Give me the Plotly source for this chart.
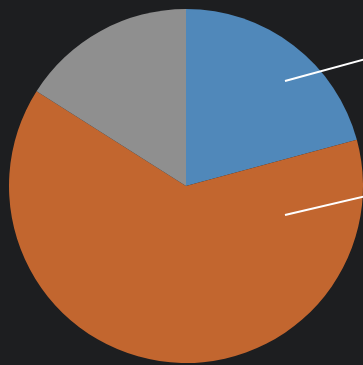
import plotly.graph_objects as go

# Data
categories = ["Blue", "Orange", "Gray"]
values = [20.8, 63.2, 16.0]
colors = ["#5088BA", "#C2662F", "#8F8F8F"]

W, H = 363, 365
cx, cy, r = 186, 186, 177

fig = go.Figure(go.Pie(
    labels=categories,
    values=values,
    sort=False,
    direction="clockwise",
    rotation=0,
    marker=dict(colors=colors, line=dict(width=0)),
    textinfo="none",
    hoverinfo="label+percent",
    showlegend=False,
    domain=dict(x=[(cx - r) / W, (cx + r) / W], y=[1 - (cy + r) / H, 1 - (cy - r) / H]),
))

# leader lines toward labels placed off the right edge
leaders = [((285, 81), (366, 59)), ((285, 215), (366, 196))]
shapes = []
for (x0, y0), (x1, y1) in leaders:
    shapes.append(dict(type="line", xref="paper", yref="paper",
                       x0=x0 / W, y0=1 - y0 / H, x1=x1 / W, y1=1 - y1 / H,
                       line=dict(color="white", width=2)))

fig.update_layout(
    width=W, height=H,
    margin=dict(l=0, r=0, t=0, b=0),
    paper_bgcolor="#1d1e20",
    plot_bgcolor="#1d1e20",
    shapes=shapes,
)

fig.write_html("out.html")
